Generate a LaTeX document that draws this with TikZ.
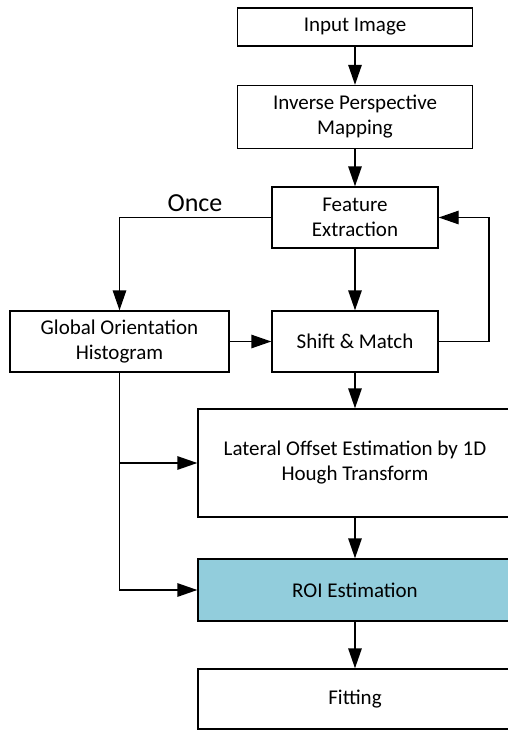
\documentclass[tikz,border=0pt]{standalone}
\usepackage{fontspec}
\setmainfont{Carlito}
\usetikzlibrary{arrows.meta}

\begin{document}
\begin{tikzpicture}[x=1pt,y=-1pt,
  box/.style={draw, line width=1.4pt, align=center, inner sep=0pt,
    font=\fontsize{21}{25}\selectfont},
  arr/.style={line width=1.4pt, -{Triangle[length=20pt,width=13.5pt]}}]
  \useasboundingbox (0,0) rectangle (508,731);
  \clip (0,0) rectangle (508,731);
  \fill[white] (0,0) rectangle (508,731);

  % process blocks
  \node[box, minimum width=235pt, minimum height=38pt] (in)  at (355,27)    {Input Image};
  \node[box, minimum width=235pt, minimum height=63pt] (ipm) at (355,117)   {Inverse Perspective\\Mapping};
  \node[box, minimum width=166pt, minimum height=61pt] (fe)  at (355,217.5) {Feature\\Extraction};
  \node[box, minimum width=219pt, minimum height=61pt] (goh) at (119.5,341.5) {Global Orientation\\Histogram};
  \node[box, minimum width=166pt, minimum height=61pt] (sm)  at (355,341.5) {Shift \& Match};
  \node[box, minimum width=314pt, minimum height=108pt] (lat) at (355,463)  {Lateral Offset Estimation by 1D\\Hough Transform};
  \node[box, minimum width=314pt, minimum height=62pt, fill={rgb,255:red,146;green,205;blue,220}] (roi) at (355,590) {ROI Estimation};
  \node[box, minimum width=314pt, minimum height=60pt] (fit) at (355,699)   {Fitting};

  \node[font=\fontsize{26}{30}\selectfont] (once) at (195,203) {Once};

  \coordinate (fb) at (489,0);

  % main flow
  \draw[arr] (in) -- (ipm);
  \draw[arr] (ipm) -- (fe);
  \draw[arr] (fe) -- (sm);
  \draw[arr] (sm) -- (lat);
  \draw[arr] (lat) -- (roi);
  \draw[arr] (roi) -- (fit);

  % orientation branch
  \draw[arr] (fe.west) -| (goh.north);
  \draw[arr] (goh) -- (sm);
  \draw[arr] (goh.south) |- (roi.west);
  \draw[arr] (goh.south |- lat.west) -- (lat.west);

  % feedback loop
  \draw[arr] (sm.east) -- (sm.east -| fb) -- (fe.east -| fb) -- (fe.east);
\end{tikzpicture}
\end{document}
